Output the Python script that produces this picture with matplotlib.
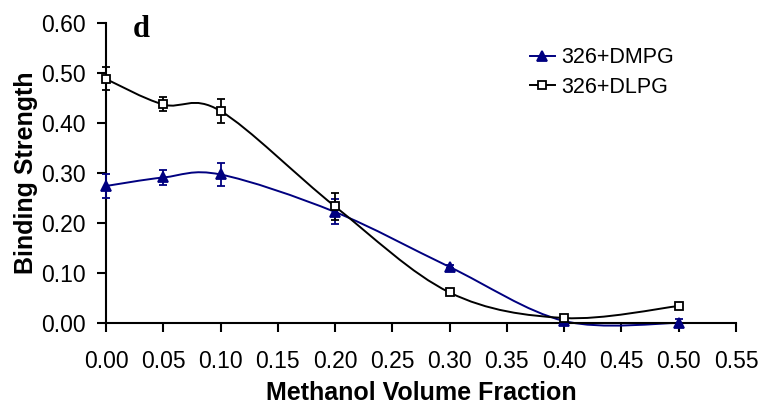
import matplotlib
matplotlib.use("Agg")
import matplotlib.pyplot as plt
import numpy as np
from matplotlib.path import Path
from matplotlib.patches import PathPatch

plt.rcParams["font.family"] = ["Liberation Sans", "DejaVu Sans"]

# --- Data ---
methanol = [0.00, 0.05, 0.10, 0.20, 0.30, 0.40, 0.50]
dmpg = [0.274, 0.291, 0.297, 0.222, 0.112, 0.004, 0.000]
dmpg_err = [0.024, 0.015, 0.023, 0.025, 0.003, 0.003, 0.007]
dlpg = [0.488, 0.437, 0.424, 0.233, 0.061, 0.010, 0.034]
dlpg_err = [0.023, 0.014, 0.024, 0.027, 0.003, 0.003, 0.003]

x_ticks = np.arange(0, 0.551, 0.05)
y_ticks = np.arange(0, 0.601, 0.10)

NAVY = "#000080"


def smooth_path(x, y):
    """Bezier path through the points, tangents from neighbours (1/6 rule)."""
    pts = np.column_stack([x, y])
    n = len(pts)
    verts = [pts[0]]
    codes = [Path.MOVETO]
    for i in range(n - 1):
        p0 = pts[max(i - 1, 0)]
        p1 = pts[i]
        p2 = pts[i + 1]
        p3 = pts[min(i + 2, n - 1)]
        c1 = p1 + (p2 - p0) / 6.0
        c2 = p2 - (p3 - p1) / 6.0
        verts += [c1, c2, p2]
        codes += [Path.CURVE4] * 3
    return Path(verts, codes)


fig = plt.figure(figsize=(7.64, 4.07), dpi=100)
ax = fig.add_axes([0.1387, 0.2064, 0.8247, 0.7371])

for yv, err, color, marker, face, ms, label in [
    (dmpg, dmpg_err, NAVY, "^", NAVY, 7, "326+DMPG"),
    (dlpg, dlpg_err, "black", "s", "white", 6, "326+DLPG"),
]:
    ax.add_patch(PathPatch(smooth_path(methanol, yv), facecolor="none",
                           edgecolor=color, lw=1.4, zorder=2, clip_on=False))
    ax.errorbar(methanol, yv, yerr=err, fmt="none", ecolor=color,
                elinewidth=1.3, capsize=3, capthick=1.3, zorder=3,
                clip_on=False)
    ax.plot(methanol, yv, linestyle="none", marker=marker, ms=ms,
            mfc=face, mec=color, mew=1.3, zorder=4, clip_on=False)
    # legend proxy: short line with marker
    ax.plot([], [], color=color, lw=1.4, marker=marker, ms=ms,
            mfc=face, mec=color, mew=1.3, label=label)

ax.set_xlim(0, 0.55)
ax.set_ylim(0, 0.60)
ax.set_xticks(x_ticks)
ax.set_yticks(y_ticks)
ax.set_xticklabels([f"{v:.2f}" for v in x_ticks])
ax.set_yticklabels([f"{v:.2f}" for v in y_ticks])

for side in ("top", "right"):
    ax.spines[side].set_visible(False)
for side in ("left", "bottom"):
    ax.spines[side].set_linewidth(1.5)
ax.tick_params(direction="out", length=6.5, width=1.5, labelsize=16.5)
ax.tick_params(axis="x", pad=13)
ax.tick_params(axis="y", pad=8)

ax.set_xlabel("Methanol Volume Fraction", fontsize=18, fontweight="bold", labelpad=6)
ax.set_ylabel("Binding Strength", fontsize=18, fontweight="bold", labelpad=2)

ax.text(0.031, 0.586, "d", fontsize=22, fontweight="bold",
        family=["Liberation Serif", "DejaVu Serif"], ha="center", va="center")

ax.legend(loc="upper left", bbox_to_anchor=(0.659, 0.948), frameon=False,
          fontsize=15.5, handlelength=1.15, handletextpad=0.3,
          labelspacing=0.4, borderaxespad=0)

fig.savefig("out.png", dpi=100)
